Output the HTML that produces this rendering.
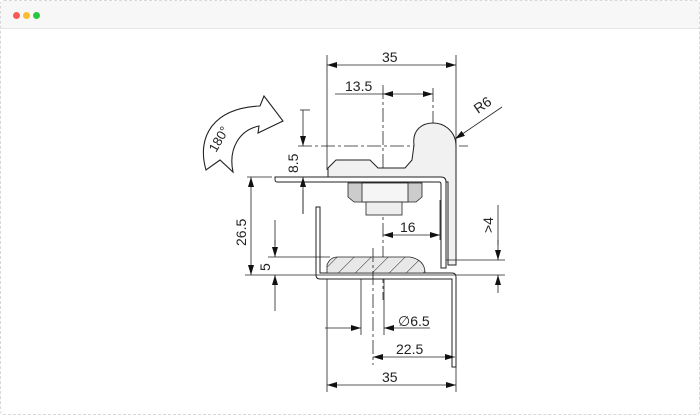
<!DOCTYPE html>
<html><head><style>
html,body{margin:0;padding:0;background:#fff;}
.win{position:absolute;left:0;top:0;width:698px;height:413px;border:1px dashed #d8d8d8;background:#fff;border-radius:4px;}
.bar{position:absolute;left:0;top:0;width:698px;height:27px;background:#f7f7f7;border-bottom:1px solid #e6e6e6;}
.d{position:absolute;top:11px;width:7px;height:7px;border-radius:50%;}
svg{position:absolute;left:0;top:0;}
text{font-family:"Liberation Sans","DejaVu Sans",sans-serif;font-size:14px;fill:#222;}
</style></head><body>
<div class="win"><div class="bar"></div>
<div class="d" style="left:12px;background:#f85b57"></div>
<div class="d" style="left:22px;background:#fbbb2e"></div>
<div class="d" style="left:32px;background:#27c840"></div>
</div>
<svg width="700" height="415" viewBox="0 0 700 415">
<defs>
<marker id="a" viewBox="0 0 10 6" refX="10" refY="3" markerWidth="10" markerHeight="6" orient="auto-start-reverse" markerUnits="userSpaceOnUse"><path d="M0,0L10,3L0,6z" fill="#111"/></marker>
<pattern id="h" width="12" height="12" patternUnits="userSpaceOnUse" patternTransform="rotate(45)"><rect width="12" height="12" fill="#e8e8e8"/><line x1="0" y1="0" x2="0" y2="12" stroke="#222" stroke-width="1"/></pattern>
</defs>
<g stroke="#222" fill="none" stroke-width="0.8">
<path d="M206,170 C196,135 215,108 260,106 L264,96 L283,121 L258,133 L259,126 C240,130 228,148 233,172 L220,160 Z" fill="#fff" stroke-width="1.1"/>
<line x1="327" y1="55" x2="327" y2="170"/>
<line x1="456" y1="55" x2="456" y2="150"/>
<line x1="383" y1="85" x2="383" y2="300" stroke-dasharray="14 3 3 3"/>
<line x1="433" y1="88" x2="433" y2="170" stroke-dasharray="14 3 3 3"/>
<line x1="298" y1="146" x2="468" y2="146" stroke-dasharray="14 3 3 3"/>
<line x1="300" y1="110" x2="310" y2="110"/>
<line x1="303" y1="190" x2="303" y2="214"/>
<path d="M328,177 L328,168 L336,160 L370,160 L378,168 L405,168 L412,160 L414,145 C412,130 422,123 433,123 C446,123 456,133 456,146 L456,265 L448,265 L448,182 Z" fill="#f1f1f1" stroke-width="1"/>
<path d="M275,177 L441,177 Q446,177 446,182 L446,268 L441,268 L441,184 Q441,182 439,182 L277,182 Q275,182 275,179 Z" fill="#fff" stroke-width="1"/>
<path d="M348,183 L422,183 L422,197 L416,202 L354,202 L348,197 Z" fill="#ccc"/>
<rect x="362" y="183" width="46" height="19" fill="#f5f5f5"/>
<rect x="366" y="202" width="36" height="13" fill="#eee"/>
<path d="M316,207 L320,207 L320,273 L452,273 Q456,273 456,277 L456,367 L452,367 L452,279 L320,279 Q316,279 316,275 Z" fill="#fff" stroke-width="1"/>
<path d="M327,273 L327,265 Q330,257 338,257 L410,257 Q425,260 425,273 Z" fill="url(#h)"/>
<line x1="373" y1="248" x2="373" y2="365" stroke-dasharray="14 3 3 3"/>
<line x1="361" y1="279" x2="361" y2="335"/>
<line x1="384" y1="279" x2="384" y2="335"/>
<line x1="327" y1="279" x2="327" y2="392"/>
<line x1="456" y1="367" x2="456" y2="392"/>
<line x1="247" y1="177" x2="272" y2="177"/>
<line x1="245" y1="275" x2="505" y2="275"/>
<line x1="268" y1="257" x2="330" y2="257"/>
<line x1="446" y1="260" x2="505" y2="260"/>
<line x1="440" y1="200" x2="440" y2="240"/>
<line x1="275" y1="220" x2="275" y2="245"/>
<line x1="498" y1="205" x2="498" y2="245"/>
<line x1="327" y1="65" x2="456" y2="65" marker-start="url(#a)" marker-end="url(#a)"/>
<line x1="335" y1="94" x2="383" y2="94"/>
<line x1="383" y1="94" x2="433" y2="94" marker-start="url(#a)" marker-end="url(#a)"/>
<line x1="303" y1="110" x2="303" y2="146" marker-end="url(#a)"/>
<line x1="303" y1="214" x2="303" y2="177" marker-end="url(#a)"/>
<line x1="251" y1="177" x2="251" y2="275" marker-start="url(#a)" marker-end="url(#a)"/>
<line x1="275" y1="240" x2="275" y2="257" marker-end="url(#a)"/>
<line x1="275" y1="311" x2="275" y2="275" marker-end="url(#a)"/>
<line x1="498" y1="240" x2="498" y2="260" marker-end="url(#a)"/>
<line x1="498" y1="293" x2="498" y2="275" marker-end="url(#a)"/>
<line x1="383" y1="235" x2="440" y2="235" marker-start="url(#a)" marker-end="url(#a)"/>
<line x1="325" y1="328" x2="361" y2="328" marker-end="url(#a)"/>
<line x1="430" y1="328" x2="384" y2="328" marker-end="url(#a)"/>
<line x1="373" y1="357" x2="455" y2="357" marker-start="url(#a)" marker-end="url(#a)"/>
<line x1="327" y1="385" x2="456" y2="385" marker-start="url(#a)" marker-end="url(#a)"/>
<line x1="502" y1="107" x2="455" y2="139" marker-end="url(#a)"/>
</g>
<text x="382" y="62">35</text>
<text x="345" y="91">13.5</text>
<text x="400" y="232">16</text>
<text x="398" y="326">∅6.5</text>
<text x="396" y="354">22.5</text>
<text x="382" y="382">35</text>
<text transform="translate(478,114) rotate(-35)">R6</text>
<text transform="translate(298,173) rotate(-90)">8.5</text>
<text transform="translate(246,246) rotate(-90)">26.5</text>
<text transform="translate(270,271) rotate(-90)">5</text>
<text transform="translate(493,233) rotate(-90)">&gt;4</text>
<text transform="translate(216,153) rotate(-60)" style="font-size:13px">180°</text>
</svg>
</body></html>
